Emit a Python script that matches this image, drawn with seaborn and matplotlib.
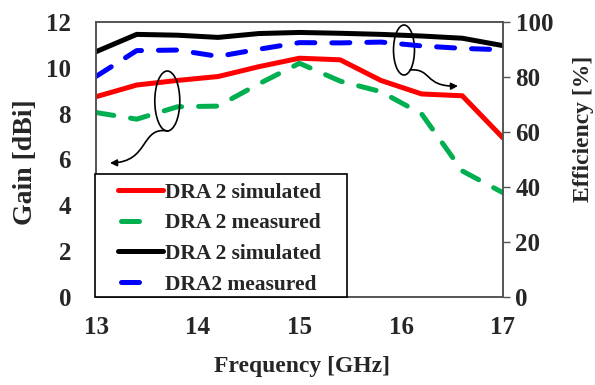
import numpy as np
import pandas as pd
import matplotlib
matplotlib.use("Agg")
import matplotlib.pyplot as plt
import seaborn as sns
from matplotlib.patches import Ellipse, FancyArrowPatch, Rectangle
from matplotlib.path import Path
from matplotlib.lines import Line2D

freq = [13.0, 13.4, 13.8, 14.2, 14.6, 15.0, 15.4, 15.8, 16.2, 16.6, 17.0]
gain_sim = [8.74, 9.25, 9.45, 9.62, 10.05, 10.42, 10.35, 9.45, 8.86, 8.78, 6.94]
gain_meas = [8.05, 7.76, 8.3, 8.33, 9.3, 10.2, 9.42, 8.96, 7.99, 5.5, 4.55]
eff_sim = [89.2, 95.5, 95.2, 94.4, 95.8, 96.2, 95.9, 95.5, 94.9, 94.1, 91.4]
eff_meas = [80.2, 89.6, 89.8, 87.5, 90.1, 92.5, 92.4, 92.7, 91.3, 90.4, 89.9]
labels = ["DRA 2 simulated", "DRA 2 measured", "DRA 2 simulated", "DRA2 measured"]
colors = ["#ff0000", "#00b050", "#000000", "#0000ff"]

sns.set_style("white")
plt.rcParams['font.family'] = ['Liberation Serif', 'DejaVu Serif']
plt.rcParams['font.weight'] = 'bold'

df = pd.DataFrame({"freq": freq, "gs": gain_sim, "gm": gain_meas,
                   "es": eff_sim, "em": eff_meas})

fig = plt.figure(figsize=(5.95, 3.85), dpi=100)
ax = fig.add_axes([96/595, 1-297/385, 407/595, 275/385])
ax2 = ax.twinx()

lw = 3.6
dash = (3.6, 3.4)
sns.lineplot(data=df, x="freq", y="gs", ax=ax, color=colors[0], lw=lw)
sns.lineplot(data=df, x="freq", y="gm", ax=ax, color=colors[1], lw=lw)
l = ax.lines[-1]; l.set_dashes(dash); l.set_dash_capstyle('round')
sns.lineplot(data=df, x="freq", y="es", ax=ax2, color=colors[2], lw=lw)
sns.lineplot(data=df, x="freq", y="em", ax=ax2, color=colors[3], lw=lw)
l = ax2.lines[-1]; l.set_dashes(dash); l.set_dash_capstyle('round')

ax.set_xlim(13, 17)
ax.set_ylim(0, 12)
ax2.set_ylim(0, 100)
ax.set_xticks([13, 14, 15, 16, 17])
ax.set_yticks(range(0, 13, 2))
ax2.set_yticks(range(0, 101, 20))

fs = 18
ax.tick_params(axis='x', length=0, pad=14, labelsize=fs)
ax.tick_params(axis='y', length=0, pad=18, labelsize=fs)
ax2.tick_params(axis='y', length=5, width=1, color="#555555", pad=4, labelsize=fs, direction='out')
ax2.tick_params(axis='x', length=0)
for a in (ax, ax2):
    for s in a.spines.values():
        s.set_color("#555555")
        s.set_linewidth(1.2)
    for t in a.get_xticklabels() + a.get_yticklabels():
        t.set_fontweight('bold')

ax.set_xlabel("Frequency [GHz]", fontsize=17, fontweight='bold')
ax.set_ylabel("Gain [dBi]", fontsize=20, fontweight='bold')
ax2.set_ylabel("Efficiency [%]", fontsize=17, fontweight='bold', rotation=90)
ax.xaxis.set_label_coords(0.506, -0.215)
ax.yaxis.set_label_coords(-0.1425, 0.49)
ax2.yaxis.set_label_coords(1.172, 0.61)

# legend box drawn in axes coordinates
T = ax2.transAxes
def fx(p):
    return (p - 96) / 407
def fy(p):
    return (297 - p) / 275

ax2.add_patch(Rectangle((fx(95), 0), fx(347) - fx(95), fy(174), transform=T,
                        facecolor='white', edgecolor='black', lw=1.2, zorder=10,
                        clip_on=False))
row_y = [190, 220.7, 251.3, 282]
for i, (lab, c) in enumerate(zip(labels, colors)):
    yy = fy(row_y[i])
    if i % 2 == 0:
        ln = Line2D([fx(118), fx(163)], [yy, yy], color=c, lw=lw, transform=T,
                    zorder=11, solid_capstyle='round')
    else:
        ln = Line2D([fx(120.5), fx(138.5)], [yy, yy], color=c, lw=lw, transform=T,
                    zorder=11, solid_capstyle='round')
    ax2.add_line(ln)
    ax2.text(fx(165), yy, lab, transform=T, ha='left', va='center_baseline',
             fontsize=15.5, fontweight='bold', zorder=12)

# annotations (pixel positions converted to data coords)
def px(x, y):
    return (13 + (x - 96) / 101.75, (297 - y) / 22.917)

ax.add_patch(Ellipse(px(167.3, 101), 25/101.75, 60/22.917, fill=False, color='black', lw=1.2, zorder=5))
ax.add_patch(Ellipse(px(404, 50), 21/101.75, 50/22.917, fill=False, color='black', lw=1.2, zorder=5))

p1 = Path([px(168, 131), px(140, 126), px(150, 162), px(110, 163)],
          [Path.MOVETO, Path.CURVE4, Path.CURVE4, Path.CURVE4])
ax.add_patch(FancyArrowPatch(path=p1, arrowstyle='-|>', mutation_scale=10, color='black', lw=1.2, zorder=5))
p2 = Path([px(410, 70), px(432, 68), px(424, 87), px(458, 86)],
          [Path.MOVETO, Path.CURVE4, Path.CURVE4, Path.CURVE4])
ax.add_patch(FancyArrowPatch(path=p2, arrowstyle='-|>', mutation_scale=10, color='black', lw=1.2, zorder=5))

fig.savefig("out.png", dpi=100)
